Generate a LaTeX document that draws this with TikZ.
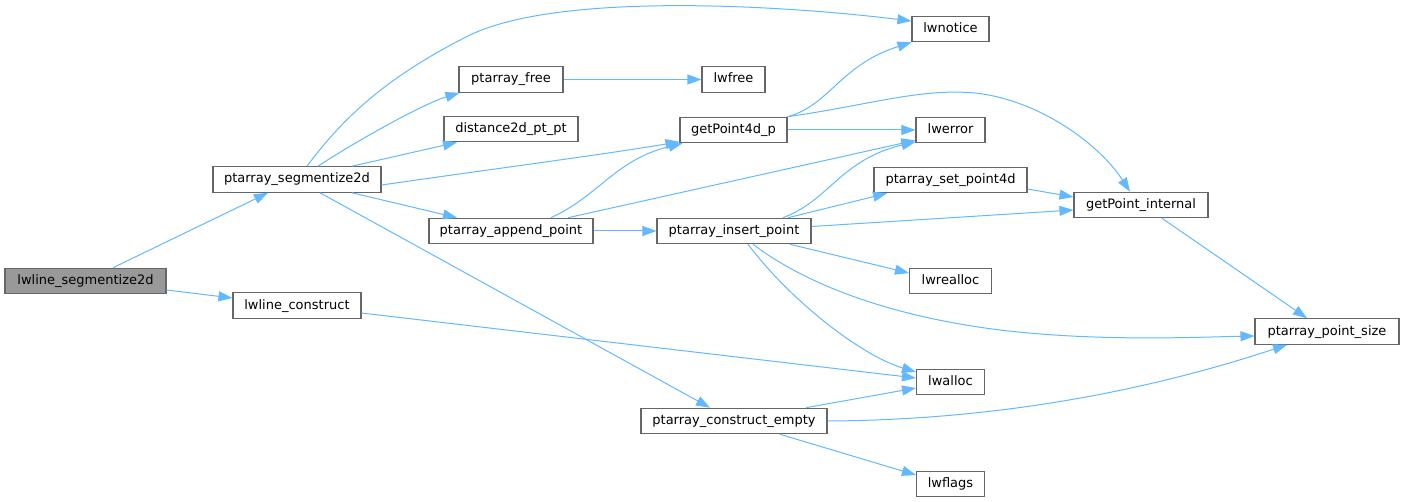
\documentclass[tikz,border=0pt]{standalone}
\usepackage{fontspec}
\setmainfont{DejaVu Sans}
\usetikzlibrary{arrows.meta}
\definecolor{edgeblue}{HTML}{63B8FF}
\definecolor{boxgray}{HTML}{666666}
\definecolor{rootfill}{HTML}{999999}
\tikzset{
  fnode/.style={draw=boxgray, line width=1.1pt, fill=white, inner sep=0pt,
    minimum height=25.5pt, font=\fontsize{13}{15}\selectfont,
    text height=10pt, text depth=3pt},
  calls/.style={draw=edgeblue, line width=1pt,
    -{Triangle[length=14pt,width=10pt]}}
}
\begin{document}
\begin{tikzpicture}[x=1pt,y=-1pt]
\useasboundingbox (0,0) rectangle (1404,502);
% nodes
\node[fnode, fill=rootfill, minimum width=161pt] (lws) at (85.5,281) {lwline\_segmentize2d};
\node[fnode, minimum width=168pt] (psd) at (297,179.5) {ptarray\_segmentize2d};
\node[fnode, minimum width=128pt] (lwc) at (297,305.5) {lwline\_construct};
\node[fnode, minimum width=77pt] (lwnotice) at (950.5,29) {lwnotice};
\node[fnode, minimum width=104pt] (free) at (511,79.5) {ptarray\_free};
\node[fnode, minimum width=63pt] (lwfree) at (733.5,79.5) {lwfree};
\node[fnode, minimum width=134pt] (dist) at (511,129) {distance2d\_pt\_pt};
\node[fnode, minimum width=107pt] (gp4d) at (733.5,130) {getPoint4d\_p};
\node[fnode, minimum width=69pt] (lwerror) at (950.5,130) {lwerror};
\node[fnode, minimum width=153pt] (setp) at (950.5,180) {ptarray\_set\_point4d};
\node[fnode, minimum width=134pt] (gpi) at (1141,205) {getPoint\_internal};
\node[fnode, minimum width=164pt] (append) at (511,231) {ptarray\_append\_point};
\node[fnode, minimum width=154pt] (insert) at (734,231) {ptarray\_insert\_point};
\node[fnode, minimum width=82pt] (lwrealloc) at (950.5,281) {lwrealloc};
\node[fnode, minimum width=144pt] (pps) at (1327,331.5) {ptarray\_point\_size};
\node[fnode, minimum width=68pt] (lwalloc) at (950.5,382) {lwalloc};
\node[fnode, minimum width=186pt] (pce) at (734,421) {ptarray\_construct\_empty};
\node[fnode, minimum width=68pt] (lwflags) at (950.5,484) {lwflags};
% edges
\draw[calls] ([xshift=27.5pt]lws.north) -- ([xshift=-29pt]psd.south);
\draw[calls] ([yshift=-9pt]lws.east) -- ([yshift=7.5pt]lwc.west);
\draw[calls] ([xshift=10pt]psd.north) .. controls (345,115) and (390,75) .. (470,35) .. controls (560,-8) and (780,5) .. ([yshift=8pt]lwnotice.west);
\draw[calls] ([xshift=21pt]psd.north) .. controls (350,145) and (420,105) .. ([xshift=1pt]free.south west);
\draw[calls] ([xshift=55pt]psd.north) -- ([xshift=-54pt]dist.south);
\draw[calls] ([yshift=-5.5pt]psd.east) .. controls (500,168) and (600,155) .. ([yshift=1.5pt]gp4d.south west);
\draw[calls] ([xshift=55pt]psd.south) -- ([xshift=-54pt]append.north);
\draw[calls] ([xshift=23pt]psd.south) -- ([xshift=-24pt]pce.north);
\draw[calls] (free) -- (lwfree);
\draw[calls] (gp4d.north east) .. controls (830,105) and (840,65) .. (lwnotice.south west);
\draw[calls] (gp4d.north east) .. controls (870,105) and (920,88) .. (975,93) .. controls (1040,100) and (1100,145) .. ([xshift=-11pt]gpi.north);
\draw[calls] (gp4d) -- (lwerror);
\draw[calls] ([xshift=40pt]append.north) .. controls (600,195) and (615,160) .. ([xshift=3pt]gp4d.south west);
\draw[calls] ([xshift=57pt]append.north) -- ([yshift=3pt]lwerror.south west);
\draw[calls] (append) -- (insert);
\draw[calls] ([xshift=49pt]insert.north) .. controls (830,200) and (840,160) .. ([yshift=1.5pt]lwerror.south west);
\draw[calls] ([xshift=54pt]insert.north) -- ([xshift=-63.5pt]setp.south);
\draw[calls] ([yshift=4.5pt]insert.east) -- ([yshift=-5pt]gpi.west);
\draw[calls] ([xshift=56pt]insert.south) -- ([yshift=8pt]lwrealloc.west);
\draw[calls] ([xshift=19pt]insert.south) .. controls (800,280) and (880,315) .. (1000,330) .. controls (1100,342) and (1200,337) .. ([yshift=-4.5pt]pps.west);
\draw[calls] ([xshift=14pt]insert.south) .. controls (790,300) and (860,355) .. ([yshift=10pt]lwalloc.west);
\draw[calls] ([xshift=21pt]gpi.south) -- ([xshift=-20pt]pps.north);
\draw[calls] ([yshift=-9pt]setp.east) -- ([yshift=8pt]gpi.west);
\draw[calls] ([yshift=-7.5pt]lwc.east) -- ([yshift=4pt]lwalloc.west);
\draw[calls] ([xshift=72pt]pce.north) -- ([yshift=-6pt]lwalloc.west);
\draw[calls] (pce.east) .. controls (1000,420) and (1150,390) .. ([xshift=-40pt]pps.south);
\draw[calls] ([xshift=46pt]pce.south) -- ([yshift=9pt]lwflags.west);
\end{tikzpicture}
\end{document}
